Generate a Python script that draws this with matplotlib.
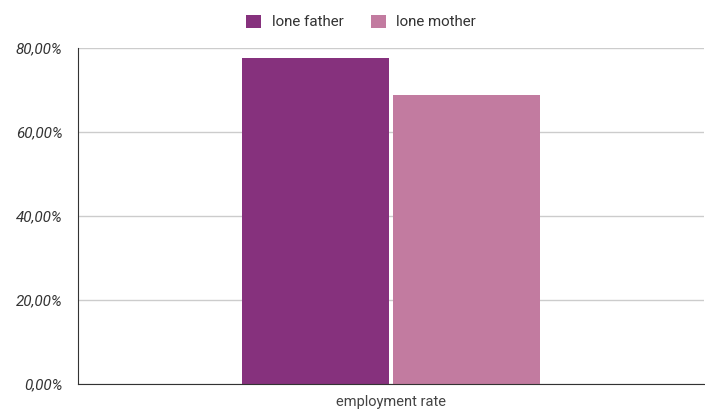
import matplotlib
matplotlib.use("Agg")
import matplotlib.pyplot as plt
import numpy as np
from matplotlib.ticker import FuncFormatter

categories = ["employment rate"]
series_names = ["lone father", "lone mother"]
lone_father = [77.7]
lone_mother = [68.8]
y_ticks = [0, 20, 40, 60, 80]
colors = ["#86317D", "#C27BA0"]

plt.rcParams['font.family'] = ['Roboto', 'DejaVu Sans']

fig = plt.figure(figsize=(7.05, 4.12), dpi=100)
ax = fig.add_axes([78/705, 1 - 384/412, 626/705, (384-48)/412])

x = np.arange(len(categories))
w = 0.236
off = 0.1205
ax.bar(x - off, lone_father, width=w, color=colors[0], label=series_names[0], zorder=3)
ax.bar(x + off, lone_mother, width=w, color=colors[1], label=series_names[1], zorder=3)

ax.set_xlim(-0.5, 0.5)
ax.set_ylim(0, 80)
ax.set_yticks(y_ticks)
ax.yaxis.set_major_formatter(FuncFormatter(lambda v, p: f"{v:.2f}".replace('.', ',') + "%"))
ax.set_xticks(x)
ax.set_xticklabels(categories)
ax.grid(axis='y', color='#cccccc', linewidth=1, zorder=0)
for s in ['top', 'right']:
    ax.spines[s].set_visible(False)
ax.spines['left'].set_color('#333333')
ax.spines['bottom'].set_color('#333333')
ax.spines['left'].set_zorder(4)
ax.spines['bottom'].set_zorder(4)
ax.tick_params(axis='x', length=0, colors='#444444', labelsize=10.5, pad=8)
ax.tick_params(axis='y', length=0, colors='#333333', labelsize=11, pad=11)
for lab in ax.get_yticklabels():
    lab.set_fontstyle('italic')

leg = fig.legend(loc='center', bbox_to_anchor=(0.512, 1 - 22/412), ncol=2, frameon=False,
                 fontsize=10.9, handlelength=1.0, handleheight=1.0, handletextpad=0.7,
                 columnspacing=1.8, labelcolor='#333333')

fig.savefig("out.png", dpi=100)
